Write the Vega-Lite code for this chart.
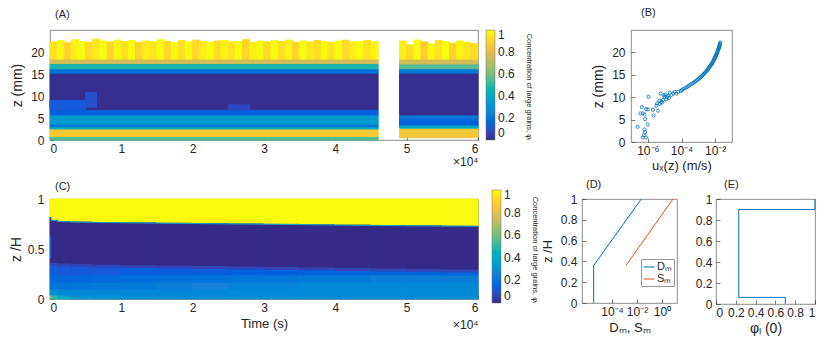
{
  "$schema": "https://vega.github.io/schema/vega-lite/v6.json",
  "padding": {"left": 8, "top": 6, "right": 0, "bottom": 0},
  "config": {
    "font": "Liberation Sans",
    "view": {"stroke": "#6e6e6e", "strokeWidth": 0.8},
    "axis": {"domain": false, "grid": false, "tickColor": "#262626", "tickSize": -4, "tickWidth": 0.6, "labelPadding": 7, "labelColor": "#262626", "labelFontSize": 12, "titleColor": "#262626", "titleFontWeight": "normal", "titleFontSize": 14, "labelOverlap": false},
    "axisY": {"labelPadding": 10},
    "title": {"fontWeight": "normal", "fontSize": 11, "color": "#262626", "anchor": "start", "frame": "group"},
    "legend": {"labelColor": "#262626", "titleColor": "#262626"}
  },
  "datasets": {
    "A": [
      {"t0":0,"t1":46000,"z0":0,"z1":0.8,"phi":0.55},
      {"t0":0,"t1":46000,"z0":0.8,"z1":2.5,"phi":0.87},
      {"t0":0,"t1":46000,"z0":2.5,"z1":3.0,"phi":0.42},
      {"t0":0,"t1":46000,"z0":3.0,"z1":3.6,"phi":0.2},
      {"t0":0,"t1":46000,"z0":3.6,"z1":5.7,"phi":0.33},
      {"t0":0,"t1":46000,"z0":5.7,"z1":6.9,"phi":0.14},
      {"t0":0,"t1":46000,"z0":6.9,"z1":15.2,"phi":0.01},
      {"t0":0,"t1":46000,"z0":15.2,"z1":16.2,"phi":0.2},
      {"t0":0,"t1":46000,"z0":16.2,"z1":17.4,"phi":0.48},
      {"t0":0,"t1":46000,"z0":17.4,"z1":18.4,"phi":0.76},
      {"t0":0,"t1":5000,"z0":6.9,"z1":9.0,"phi":0.12},
      {"t0":5000,"t1":6500,"z0":7.5,"z1":10.8,"phi":0.1},
      {"t0":25000,"t1":28000,"z0":6.9,"z1":8.0,"phi":0.08},
      {"t0":0,"t1":1000,"z0":18.4,"z1":22.3,"phi":0.94},
      {"t0":1000,"t1":2000,"z0":18.4,"z1":22.6,"phi":0.99},
      {"t0":2000,"t1":3000,"z0":18.4,"z1":22.1,"phi":0.9},
      {"t0":3000,"t1":4000,"z0":18.4,"z1":22.8,"phi":0.97},
      {"t0":4000,"t1":5000,"z0":18.4,"z1":22.4,"phi":1},
      {"t0":5000,"t1":6000,"z0":18.4,"z1":22.2,"phi":0.92},
      {"t0":6000,"t1":7000,"z0":18.4,"z1":22.9,"phi":0.96},
      {"t0":7000,"t1":8000,"z0":18.4,"z1":22.5,"phi":1},
      {"t0":8000,"t1":9000,"z0":18.4,"z1":22.3,"phi":0.91},
      {"t0":9000,"t1":10000,"z0":18.4,"z1":22.7,"phi":0.98},
      {"t0":10000,"t1":11000,"z0":18.4,"z1":22.4,"phi":0.94},
      {"t0":11000,"t1":12000,"z0":18.4,"z1":22.6,"phi":1},
      {"t0":12000,"t1":13000,"z0":18.4,"z1":22.2,"phi":0.9},
      {"t0":13000,"t1":14000,"z0":18.4,"z1":22.5,"phi":0.97},
      {"t0":14000,"t1":15000,"z0":18.4,"z1":22.3,"phi":0.95},
      {"t0":15000,"t1":16000,"z0":18.4,"z1":22.8,"phi":1},
      {"t0":16000,"t1":17000,"z0":18.4,"z1":22.4,"phi":0.92},
      {"t0":17000,"t1":18000,"z0":18.4,"z1":22.1,"phi":0.99},
      {"t0":18000,"t1":19000,"z0":18.4,"z1":22.6,"phi":0.94},
      {"t0":19000,"t1":20000,"z0":18.4,"z1":22.3,"phi":1},
      {"t0":20000,"t1":21000,"z0":18.4,"z1":22.7,"phi":0.91},
      {"t0":21000,"t1":22000,"z0":18.4,"z1":22.4,"phi":0.97},
      {"t0":22000,"t1":23000,"z0":18.4,"z1":22.2,"phi":1},
      {"t0":23000,"t1":24000,"z0":18.4,"z1":22.5,"phi":0.93},
      {"t0":24000,"t1":25000,"z0":18.4,"z1":22.6,"phi":0.98},
      {"t0":25000,"t1":26000,"z0":18.4,"z1":22.3,"phi":0.95},
      {"t0":26000,"t1":27000,"z0":18.4,"z1":22.4,"phi":1},
      {"t0":27000,"t1":28000,"z0":18.4,"z1":22.8,"phi":0.91},
      {"t0":28000,"t1":29000,"z0":18.4,"z1":22.2,"phi":0.97},
      {"t0":29000,"t1":30000,"z0":18.4,"z1":22.5,"phi":0.99},
      {"t0":30000,"t1":31000,"z0":18.4,"z1":22.3,"phi":0.92},
      {"t0":31000,"t1":32000,"z0":18.4,"z1":22.6,"phi":1},
      {"t0":32000,"t1":33000,"z0":18.4,"z1":22.4,"phi":0.94},
      {"t0":33000,"t1":34000,"z0":18.4,"z1":22.7,"phi":0.98},
      {"t0":34000,"t1":35000,"z0":18.4,"z1":22.2,"phi":0.91},
      {"t0":35000,"t1":36000,"z0":18.4,"z1":22.5,"phi":1},
      {"t0":36000,"t1":37000,"z0":18.4,"z1":22.3,"phi":0.96},
      {"t0":37000,"t1":38000,"z0":18.4,"z1":22.6,"phi":0.93},
      {"t0":38000,"t1":39000,"z0":18.4,"z1":22.4,"phi":0.99},
      {"t0":39000,"t1":40000,"z0":18.4,"z1":22.2,"phi":0.94},
      {"t0":40000,"t1":41000,"z0":18.4,"z1":22.5,"phi":1},
      {"t0":41000,"t1":42000,"z0":18.4,"z1":22.7,"phi":0.92},
      {"t0":42000,"t1":43000,"z0":18.4,"z1":22.3,"phi":0.97},
      {"t0":43000,"t1":44000,"z0":18.4,"z1":22.4,"phi":1},
      {"t0":44000,"t1":45000,"z0":18.4,"z1":22.6,"phi":0.94},
      {"t0":45000,"t1":46000,"z0":18.4,"z1":22.3,"phi":0.98},
      {"t0":49000,"t1":60000,"z0":0.5,"z1":2.7,"phi":0.86},
      {"t0":49000,"t1":60000,"z0":2.7,"z1":3.4,"phi":0.4},
      {"t0":49000,"t1":60000,"z0":3.4,"z1":5.0,"phi":0.15},
      {"t0":49000,"t1":60000,"z0":5.0,"z1":5.7,"phi":0.22},
      {"t0":49000,"t1":60000,"z0":5.7,"z1":15.2,"phi":0.01},
      {"t0":49000,"t1":60000,"z0":15.2,"z1":16.2,"phi":0.22},
      {"t0":49000,"t1":60000,"z0":16.2,"z1":17.3,"phi":0.55},
      {"t0":49000,"t1":60000,"z0":17.3,"z1":18.4,"phi":0.76},
      {"t0":49000,"t1":50000,"z0":18.4,"z1":22.5,"phi":0.97},
      {"t0":50000,"t1":51000,"z0":18.4,"z1":21.6,"phi":0.92},
      {"t0":51000,"t1":52000,"z0":18.4,"z1":22.7,"phi":1},
      {"t0":52000,"t1":53000,"z0":18.4,"z1":22.3,"phi":0.89},
      {"t0":53000,"t1":54000,"z0":18.4,"z1":21.8,"phi":0.99},
      {"t0":54000,"t1":55000,"z0":18.4,"z1":22.6,"phi":0.94},
      {"t0":55000,"t1":56000,"z0":18.4,"z1":22.4,"phi":1},
      {"t0":56000,"t1":57000,"z0":18.4,"z1":22.0,"phi":0.9},
      {"t0":57000,"t1":58000,"z0":18.4,"z1":22.5,"phi":0.98},
      {"t0":58000,"t1":59000,"z0":18.4,"z1":22.2,"phi":0.95},
      {"t0":59000,"t1":60000,"z0":18.4,"z1":21.9,"phi":0.92}
    ],
    "B": [
      {"u":2.5e-7,"z":3.4},{"u":4.4e-7,"z":7.8},{"u":3.6e-7,"z":6.4},{"u":5.0e-7,"z":6.4},{"u":7.9e-7,"z":7.3},
      {"u":1.1e-6,"z":10.1},{"u":6.3e-7,"z":6.1},{"u":6.9e-7,"z":5.1},{"u":1.0e-6,"z":3.9},{"u":6.3e-7,"z":2.8},
      {"u":6.9e-7,"z":2.2},{"u":5.8e-7,"z":1.5},{"u":7.9e-7,"z":1.0},{"u":5.0e-7,"z":1.0},{"u":1.0e-6,"z":7.3},
      {"u":2.0e-6,"z":7.2},{"u":2.2e-6,"z":5.9},{"u":3.2e-6,"z":8.1},{"u":4.0e-6,"z":7.0},{"u":5.0e-6,"z":8.5},
      {"u":5.8e-6,"z":10.8},{"u":6.3e-6,"z":9.0},{"u":7.9e-6,"z":9.4},{"u":1.0e-5,"z":10.1},{"u":1.26e-5,"z":9.5},
      {"u":1.6e-5,"z":10.3},{"u":2.0e-5,"z":11.0},{"u":2.5e-5,"z":10.5},{"u":3.2e-5,"z":10.8},{"u":4.0e-5,"z":11.2},
      {"u":5.0e-5,"z":10.8},{"u":6.3e-5,"z":11.2},{"u":3.5e-6,"z":8.6},{"u":7.1e-6,"z":8.8},{"u":1.1e-5,"z":10.6},
      {"u":1.8e-5,"z":9.8},{"u":5.0e-6,"z":9.2},{"u":8.9e-6,"z":10.4},{"u":1.4e-5,"z":10.0},
      {"u":8.9e-5,"z":11.4},{"u":1.05e-4,"z":11.6},{"u":1.26e-4,"z":11.8},{"u":1.6e-4,"z":12.0},{"u":2.0e-4,"z":12.2},
      {"u":2.4e-4,"z":12.4},{"u":2.8e-4,"z":12.6},{"u":3.4e-4,"z":12.8},{"u":4.2e-4,"z":13.0},{"u":5.0e-4,"z":13.2},
      {"u":6.0e-4,"z":13.4},{"u":7.0e-4,"z":13.6},{"u":8.3e-4,"z":13.8},{"u":9.6e-4,"z":14.0},{"u":1.12e-3,"z":14.2},
      {"u":1.3e-3,"z":14.4},{"u":1.48e-3,"z":14.6},{"u":1.7e-3,"z":14.8},{"u":1.9e-3,"z":15.0},{"u":2.15e-3,"z":15.2},
      {"u":2.4e-3,"z":15.4},{"u":2.7e-3,"z":15.6},{"u":2.95e-3,"z":15.8},{"u":3.3e-3,"z":16.0},{"u":3.6e-3,"z":16.2},
      {"u":4.0e-3,"z":16.4},{"u":4.4e-3,"z":16.6},{"u":4.8e-3,"z":16.8},{"u":5.2e-3,"z":17.0},{"u":5.7e-3,"z":17.2},
      {"u":6.2e-3,"z":17.4},{"u":6.6e-3,"z":17.6},{"u":7.1e-3,"z":17.8},{"u":7.6e-3,"z":18.0},{"u":8.1e-3,"z":18.2},
      {"u":8.6e-3,"z":18.4},{"u":9.1e-3,"z":18.6},{"u":9.7e-3,"z":18.8},{"u":1.02e-2,"z":19.0},{"u":1.08e-2,"z":19.2},
      {"u":1.15e-2,"z":19.4},{"u":1.2e-2,"z":19.6},{"u":1.26e-2,"z":19.8},{"u":1.32e-2,"z":20.0},{"u":1.38e-2,"z":20.2},
      {"u":1.45e-2,"z":20.4},{"u":1.51e-2,"z":20.6},{"u":1.58e-2,"z":20.8},{"u":1.66e-2,"z":21.0},{"u":1.72e-2,"z":21.2},
      {"u":1.78e-2,"z":21.4},{"u":1.84e-2,"z":21.6},{"u":1.9e-2,"z":21.8},{"u":1.95e-2,"z":22.0},{"u":2.0e-2,"z":22.2}
    ],
    "C": [
      {"t0":0,"t1":250,"z0":0.815,"z1":1,"phi":1},{"t0":0,"t1":250,"z0":0.62,"z1":0.815,"phi":0},{"t0":0,"t1":250,"z0":0.4,"z1":0.62,"phi":0.12},{"t0":0,"t1":250,"z0":0.36,"z1":0.4,"phi":0},{"t0":0,"t1":250,"z0":0.33,"z1":0.36,"phi":0.07},
      {"t0":0,"t1":250,"z0":0,"z1":0.04,"phi":0.62},{"t0":0,"t1":250,"z0":0.04,"z1":0.1,"phi":0.32},{"t0":0,"t1":250,"z0":0.1,"z1":0.17,"phi":0.22},{"t0":0,"t1":250,"z0":0.17,"z1":0.24,"phi":0.17},{"t0":0,"t1":250,"z0":0.24,"z1":0.33,"phi":0.13},
      {"t0":250,"t1":1200,"z0":0.782,"z1":1,"phi":1},{"t0":250,"t1":1200,"z0":0.355,"z1":0.782,"phi":0},{"t0":250,"t1":1200,"z0":0.325,"z1":0.355,"phi":0.07},
      {"t0":250,"t1":1200,"z0":0,"z1":0.04,"phi":0.5},{"t0":250,"t1":1200,"z0":0.04,"z1":0.1,"phi":0.3},{"t0":250,"t1":1200,"z0":0.1,"z1":0.17,"phi":0.2},{"t0":250,"t1":1200,"z0":0.17,"z1":0.24,"phi":0.16},{"t0":250,"t1":1200,"z0":0.24,"z1":0.325,"phi":0.12},
      {"t0":1200,"t1":3000,"z0":0.772,"z1":1,"phi":1},{"t0":1200,"t1":3000,"z0":0.35,"z1":0.772,"phi":0},{"t0":1200,"t1":3000,"z0":0.32,"z1":0.35,"phi":0.07},
      {"t0":1200,"t1":3000,"z0":0,"z1":0.04,"phi":0.38},{"t0":1200,"t1":3000,"z0":0.04,"z1":0.1,"phi":0.28},{"t0":1200,"t1":3000,"z0":0.1,"z1":0.17,"phi":0.2},{"t0":1200,"t1":3000,"z0":0.17,"z1":0.24,"phi":0.16},{"t0":1200,"t1":3000,"z0":0.24,"z1":0.32,"phi":0.12},
      {"t0":3000,"t1":6000,"z0":0.768,"z1":1,"phi":1},{"t0":3000,"t1":6000,"z0":0.345,"z1":0.768,"phi":0},{"t0":3000,"t1":6000,"z0":0.315,"z1":0.345,"phi":0.07},
      {"t0":3000,"t1":6000,"z0":0,"z1":0.04,"phi":0.32},{"t0":3000,"t1":6000,"z0":0.04,"z1":0.1,"phi":0.27},{"t0":3000,"t1":6000,"z0":0.1,"z1":0.17,"phi":0.21},{"t0":3000,"t1":6000,"z0":0.17,"z1":0.24,"phi":0.16},{"t0":3000,"t1":6000,"z0":0.24,"z1":0.315,"phi":0.12},
      {"t0":6000,"t1":10000,"z0":0.765,"z1":1,"phi":1},{"t0":6000,"t1":10000,"z0":0.34,"z1":0.765,"phi":0},{"t0":6000,"t1":10000,"z0":0.31,"z1":0.34,"phi":0.07},
      {"t0":6000,"t1":10000,"z0":0,"z1":0.04,"phi":0.3},{"t0":6000,"t1":10000,"z0":0.04,"z1":0.1,"phi":0.27},{"t0":6000,"t1":10000,"z0":0.1,"z1":0.17,"phi":0.22},{"t0":6000,"t1":10000,"z0":0.17,"z1":0.24,"phi":0.17},{"t0":6000,"t1":10000,"z0":0.24,"z1":0.31,"phi":0.12},
      {"t0":10000,"t1":15000,"z0":0.761,"z1":1,"phi":1},{"t0":10000,"t1":15000,"z0":0.335,"z1":0.761,"phi":0},{"t0":10000,"t1":15000,"z0":0.305,"z1":0.335,"phi":0.07},
      {"t0":10000,"t1":15000,"z0":0,"z1":0.04,"phi":0.29},{"t0":10000,"t1":15000,"z0":0.04,"z1":0.1,"phi":0.27},{"t0":10000,"t1":15000,"z0":0.1,"z1":0.17,"phi":0.23},{"t0":10000,"t1":15000,"z0":0.17,"z1":0.24,"phi":0.18},{"t0":10000,"t1":15000,"z0":0.24,"z1":0.305,"phi":0.13},
      {"t0":15000,"t1":20000,"z0":0.757,"z1":1,"phi":1},{"t0":15000,"t1":20000,"z0":0.33,"z1":0.757,"phi":0},{"t0":15000,"t1":20000,"z0":0.3,"z1":0.33,"phi":0.07},
      {"t0":15000,"t1":20000,"z0":0,"z1":0.04,"phi":0.28},{"t0":15000,"t1":20000,"z0":0.04,"z1":0.1,"phi":0.27},{"t0":15000,"t1":20000,"z0":0.1,"z1":0.17,"phi":0.24},{"t0":15000,"t1":20000,"z0":0.17,"z1":0.24,"phi":0.19},{"t0":15000,"t1":20000,"z0":0.24,"z1":0.3,"phi":0.13},
      {"t0":20000,"t1":25000,"z0":0.753,"z1":1,"phi":1},{"t0":20000,"t1":25000,"z0":0.325,"z1":0.753,"phi":0},{"t0":20000,"t1":25000,"z0":0.295,"z1":0.325,"phi":0.07},
      {"t0":20000,"t1":25000,"z0":0,"z1":0.04,"phi":0.28},{"t0":20000,"t1":25000,"z0":0.04,"z1":0.1,"phi":0.27},{"t0":20000,"t1":25000,"z0":0.1,"z1":0.17,"phi":0.25},{"t0":20000,"t1":25000,"z0":0.17,"z1":0.24,"phi":0.2},{"t0":20000,"t1":25000,"z0":0.24,"z1":0.295,"phi":0.13},
      {"t0":25000,"t1":30000,"z0":0.75,"z1":1,"phi":1},{"t0":25000,"t1":30000,"z0":0.32,"z1":0.75,"phi":0},{"t0":25000,"t1":30000,"z0":0.29,"z1":0.32,"phi":0.07},
      {"t0":25000,"t1":30000,"z0":0,"z1":0.04,"phi":0.28},{"t0":25000,"t1":30000,"z0":0.04,"z1":0.1,"phi":0.28},{"t0":25000,"t1":30000,"z0":0.1,"z1":0.17,"phi":0.26},{"t0":25000,"t1":30000,"z0":0.17,"z1":0.24,"phi":0.21},{"t0":25000,"t1":30000,"z0":0.24,"z1":0.29,"phi":0.14},
      {"t0":30000,"t1":35000,"z0":0.746,"z1":1,"phi":1},{"t0":30000,"t1":35000,"z0":0.315,"z1":0.746,"phi":0},{"t0":30000,"t1":35000,"z0":0.285,"z1":0.315,"phi":0.07},
      {"t0":30000,"t1":35000,"z0":0,"z1":0.04,"phi":0.28},{"t0":30000,"t1":35000,"z0":0.04,"z1":0.1,"phi":0.28},{"t0":30000,"t1":35000,"z0":0.1,"z1":0.17,"phi":0.26},{"t0":30000,"t1":35000,"z0":0.17,"z1":0.24,"phi":0.22},{"t0":30000,"t1":35000,"z0":0.24,"z1":0.285,"phi":0.14},
      {"t0":35000,"t1":40000,"z0":0.742,"z1":1,"phi":1},{"t0":35000,"t1":40000,"z0":0.31,"z1":0.742,"phi":0},{"t0":35000,"t1":40000,"z0":0.28,"z1":0.31,"phi":0.07},
      {"t0":35000,"t1":40000,"z0":0,"z1":0.04,"phi":0.28},{"t0":35000,"t1":40000,"z0":0.04,"z1":0.1,"phi":0.28},{"t0":35000,"t1":40000,"z0":0.1,"z1":0.17,"phi":0.27},{"t0":35000,"t1":40000,"z0":0.17,"z1":0.24,"phi":0.23},{"t0":35000,"t1":40000,"z0":0.24,"z1":0.28,"phi":0.15},
      {"t0":40000,"t1":45000,"z0":0.738,"z1":1,"phi":1},{"t0":40000,"t1":45000,"z0":0.305,"z1":0.738,"phi":0},{"t0":40000,"t1":45000,"z0":0.275,"z1":0.305,"phi":0.07},
      {"t0":40000,"t1":45000,"z0":0,"z1":0.04,"phi":0.28},{"t0":40000,"t1":45000,"z0":0.04,"z1":0.1,"phi":0.28},{"t0":40000,"t1":45000,"z0":0.1,"z1":0.17,"phi":0.27},{"t0":40000,"t1":45000,"z0":0.17,"z1":0.24,"phi":0.23},{"t0":40000,"t1":45000,"z0":0.24,"z1":0.275,"phi":0.15},
      {"t0":45000,"t1":50000,"z0":0.735,"z1":1,"phi":1},{"t0":45000,"t1":50000,"z0":0.3,"z1":0.735,"phi":0},{"t0":45000,"t1":50000,"z0":0.27,"z1":0.3,"phi":0.07},
      {"t0":45000,"t1":50000,"z0":0,"z1":0.04,"phi":0.28},{"t0":45000,"t1":50000,"z0":0.04,"z1":0.1,"phi":0.28},{"t0":45000,"t1":50000,"z0":0.1,"z1":0.17,"phi":0.27},{"t0":45000,"t1":50000,"z0":0.17,"z1":0.24,"phi":0.24},{"t0":45000,"t1":50000,"z0":0.24,"z1":0.27,"phi":0.15},
      {"t0":50000,"t1":55000,"z0":0.731,"z1":1,"phi":1},{"t0":50000,"t1":55000,"z0":0.295,"z1":0.731,"phi":0},{"t0":50000,"t1":55000,"z0":0.265,"z1":0.295,"phi":0.07},
      {"t0":50000,"t1":55000,"z0":0,"z1":0.04,"phi":0.28},{"t0":50000,"t1":55000,"z0":0.04,"z1":0.1,"phi":0.28},{"t0":50000,"t1":55000,"z0":0.1,"z1":0.17,"phi":0.27},{"t0":50000,"t1":55000,"z0":0.17,"z1":0.24,"phi":0.24},{"t0":50000,"t1":55000,"z0":0.24,"z1":0.265,"phi":0.16},
      {"t0":55000,"t1":60000,"z0":0.727,"z1":1,"phi":1},{"t0":55000,"t1":60000,"z0":0.29,"z1":0.727,"phi":0},{"t0":55000,"t1":60000,"z0":0.26,"z1":0.29,"phi":0.07},
      {"t0":55000,"t1":60000,"z0":0,"z1":0.04,"phi":0.28},{"t0":55000,"t1":60000,"z0":0.04,"z1":0.1,"phi":0.28},{"t0":55000,"t1":60000,"z0":0.1,"z1":0.17,"phi":0.27},{"t0":55000,"t1":60000,"z0":0.17,"z1":0.24,"phi":0.24},{"t0":55000,"t1":60000,"z0":0.24,"z1":0.26,"phi":0.16}
    ],
    "Cline": [
      {"t":0,"z":0.815},{"t":250,"z":0.79},{"t":1200,"z":0.776},{"t":3000,"z":0.771},{"t":6000,"z":0.767},{"t":10000,"z":0.763},
      {"t":20000,"z":0.755},{"t":30000,"z":0.748},{"t":40000,"z":0.74},{"t":50000,"z":0.733},{"t":60000,"z":0.727}
    ],
    "D": [
      {"series":"Dₘ","ord":0,"val":3.4e-6,"z":0},
      {"series":"Dₘ","ord":1,"val":3.4e-6,"z":0.36},
      {"series":"Dₘ","ord":2,"val":0.022,"z":1},
      {"series":"Sₘ","ord":0,"val":1.3e-3,"z":0.36},
      {"series":"Sₘ","ord":1,"val":7.6,"z":1}
    ],
    "E": [
      {"ord":0,"phi":1,"z":1},{"ord":1,"phi":1,"z":0.9},{"ord":2,"phi":0.23,"z":0.9},
      {"ord":3,"phi":0.23,"z":0.063},{"ord":4,"phi":0.7,"z":0.063},{"ord":5,"phi":0.7,"z":0}
    ]
  },
  "resolve": {"scale": {"color": "independent"}, "legend": {"color": "independent"}},
  "spacing": 5,
  "vconcat": [
    {
      "spacing": 153,
      "bounds": "flush",
      "resolve": {"scale": {"color": "independent"}, "legend": {"color": "independent"}},
      "hconcat": [
        {
          "width": 428, "height": 110,
          "title": {"text": "(A)", "dx": 5, "offset": 10},
          "data": {"name": "A"},
          "mark": {"type": "rect", "strokeWidth": 1},
          "encoding": {
            "x": {"field": "t0", "type": "quantitative", "scale": {"domain": [0, 60000], "nice": false, "zero": false},
                  "axis": {"values": [0,10000,20000,30000,40000,50000,60000], "labelExpr": "datum.value/10000", "title": "×10⁴", "titleAnchor": "end", "titleFontSize": 12, "titlePadding": 2}},
            "x2": {"field": "t1"},
            "y": {"field": "z0", "type": "quantitative", "scale": {"domain": [0, 25], "nice": false},
                  "axis": {"values": [0,5,10,15,20], "title": "z (mm)", "titlePadding": 6}},
            "y2": {"field": "z1"},
            "stroke": {"field": "phi", "type": "quantitative", "legend": null,
                      "scale": {"domain": [0,0.125,0.25,0.375,0.5,0.625,0.75,0.875,1], "range": ["#352a87","#0f5cdd","#1481d6","#06a4ca","#2eb7a4","#87bf77","#d1bb59","#fec832","#f9fb0e"]}},
            "color": {"field": "phi", "type": "quantitative",
                      "scale": {"domain": [0,0.125,0.25,0.375,0.5,0.625,0.75,0.875,1], "range": ["#352a87","#0f5cdd","#1481d6","#06a4ca","#2eb7a4","#87bf77","#d1bb59","#fec832","#f9fb0e"]},
                      "legend": {"orient": "none", "legendX": 436, "legendY": 0, "direction": "vertical", "gradientLength": 110, "gradientThickness": 9,
                                 "values": [0,0.2,0.4,0.6,0.8,1], "format": "~g", "labelFontSize": 12, "labelOffset": 3, "labelOverlap": false, "labelBaseline": "middle",
                                 "title": "Concentration of large grains, φₗ", "titleOrient": "right", "titleFontSize": 7.5, "titleFontWeight": "normal", "titlePadding": 10, "titleAnchor": "start",
                                 "gradientStrokeColor": "#6e6e6e", "gradientStrokeWidth": 0.5}}
          }
        },
        {
          "width": 101, "height": 112,
          "title": {"text": "(B)", "dx": 10, "offset": 12},
          "data": {"name": "B"},
          "mark": {"type": "point", "shape": "circle", "filled": false, "size": 10, "color": "#0072BD", "strokeWidth": 0.8, "opacity": 1},
          "encoding": {
            "x": {"field": "u", "type": "quantitative", "scale": {"type": "log", "domain": [1e-7, 0.1], "nice": false},
                  "axis": {"values": [1e-6, 1e-4, 1e-2], "labelExpr": "datum.value < 1e-5 ? '10⁻⁶' : datum.value < 1e-3 ? '10⁻⁴' : '10⁻²'", "title": "uₓ(z) (m/s)", "titleFontSize": 13, "titlePadding": 3}},
            "y": {"field": "z", "type": "quantitative", "scale": {"domain": [0, 25], "nice": false},
                  "axis": {"values": [0,5,10,15,20], "title": "z (mm)", "titlePadding": 6}}
          }
        }
      ]
    },
    {
      "spacing": 104,
      "bounds": "flush",
      "resolve": {"scale": {"color": "independent"}, "legend": {"color": "independent"}},
      "hconcat": [
        {
          "width": 428, "height": 100,
          "title": {"text": "(C)", "dx": 5, "offset": -2},
          "resolve": {"axis": {"x": "independent"}},
          "layer": [
            {
              "data": {"name": "C"},
              "mark": {"type": "rect", "strokeWidth": 1},
              "encoding": {
                "x": {"field": "t0", "type": "quantitative", "scale": {"domain": [0, 60000], "nice": false, "zero": false},
                      "axis": {"values": [0,10000,20000,30000,40000,50000,60000], "labelExpr": "datum.value/10000", "title": "Time (s)", "titleFontSize": 13, "titlePadding": 4}},
                "x2": {"field": "t1"},
                "y": {"field": "z0", "type": "quantitative", "scale": {"domain": [0, 1], "nice": false},
                      "axis": {"values": [0, 0.5, 1], "format": "~g", "title": "z /H", "titlePadding": 4}},
                "y2": {"field": "z1"},
                "stroke": {"field": "phi", "type": "quantitative", "legend": null,
                          "scale": {"domain": [0,0.125,0.25,0.375,0.5,0.625,0.75,0.875,1], "range": ["#352a87","#0f5cdd","#1481d6","#06a4ca","#2eb7a4","#87bf77","#d1bb59","#fec832","#f9fb0e"]}},
                "color": {"field": "phi", "type": "quantitative",
                          "scale": {"domain": [0,0.125,0.25,0.375,0.5,0.625,0.75,0.875,1], "range": ["#352a87","#0f5cdd","#1481d6","#06a4ca","#2eb7a4","#87bf77","#d1bb59","#fec832","#f9fb0e"]},
                          "legend": {"orient": "none", "legendX": 442, "legendY": -9, "direction": "vertical", "gradientLength": 113, "gradientThickness": 9,
                                     "values": [0,0.2,0.4,0.6,0.8,1], "format": "~g", "labelFontSize": 12, "labelOffset": 3, "labelOverlap": false, "labelBaseline": "middle",
                                     "title": "Concentration of large grains, φₗ", "titleOrient": "right", "titleFontSize": 7.5, "titleFontWeight": "normal", "titlePadding": 10, "titleAnchor": "start",
                                     "gradientStrokeColor": "#6e6e6e", "gradientStrokeWidth": 0.5}}
              }
            },
            {
              "data": {"name": "Cline"},
              "mark": {"type": "line", "color": "#1aa2c6", "strokeWidth": 1},
              "encoding": {
                "x": {"field": "t", "type": "quantitative", "scale": {"domain": [0, 60000], "nice": false, "zero": false},
                      "axis": {"orient": "bottom", "labels": false, "ticks": false, "title": "×10⁴", "titleAnchor": "end", "titleFontSize": 12, "titlePadding": 20}},
                "y": {"field": "z", "type": "quantitative",
                      "axis": {"values": [0, 0.5, 1], "format": "~g", "title": "z /H", "titlePadding": 4}}
              }
            }
          ]
        },
        {
          "spacing": 39,
          "bounds": "flush",
          "hconcat": [
            {
              "width": 95, "height": 104,
              "title": {"text": "(D)", "dx": 4, "offset": 3},
              "data": {"name": "D"},
              "mark": {"type": "line", "strokeWidth": 1},
              "encoding": {
                "x": {"field": "val", "type": "quantitative", "scale": {"type": "log", "domain": [3.98e-7, 15.85], "nice": false},
                      "axis": {"values": [1e-4, 1e-2, 1], "labelExpr": "datum.value < 1e-3 ? '10⁻⁴' : datum.value < 0.1 ? '10⁻²' : '10⁰'", "title": "Dₘ, Sₘ", "titleFontSize": 13, "titlePadding": 4}},
                "y": {"field": "z", "type": "quantitative", "scale": {"domain": [0, 1], "nice": false},
                      "axis": {"values": [0,0.2,0.4,0.6,0.8,1], "format": "~g", "title": "z /H", "titleFontSize": 13, "titlePadding": 6, "labelPadding": 9}},
                "color": {"field": "series", "type": "nominal", "scale": {"domain": ["Dₘ", "Sₘ"], "range": ["#0072BD", "#D95319"]},
                          "legend": {"orient": "none", "legendX": 59, "legendY": 60, "title": null, "symbolType": "stroke", "symbolStrokeWidth": 1, "symbolSize": 120,
                                     "labelFontSize": 11, "strokeColor": "#999999", "fillColor": "white", "padding": 2, "rowPadding": 1, "labelOffset": 2}},
                "order": {"field": "ord", "type": "quantitative"}
              }
            },
            {
              "width": 99, "height": 105,
              "title": {"text": "(E)", "dx": 8, "offset": 3},
              "data": {"name": "E"},
              "mark": {"type": "line", "strokeWidth": 1, "color": "#0072BD"},
              "encoding": {
                "x": {"field": "phi", "type": "quantitative", "scale": {"domain": [0, 1], "nice": false},
                      "axis": {"values": [0,0.2,0.4,0.6,0.8,1], "format": "~g", "title": "φₗ (0)", "titleFontSize": 14, "titlePadding": 3}},
                "y": {"field": "z", "type": "quantitative", "scale": {"domain": [0, 1], "nice": false},
                      "axis": {"values": [0,0.2,0.4,0.6,0.8,1], "format": "~g", "title": null, "labelPadding": 8}},
                "order": {"field": "ord", "type": "quantitative"}
              }
            }
          ]
        }
      ]
    }
  ]
}
